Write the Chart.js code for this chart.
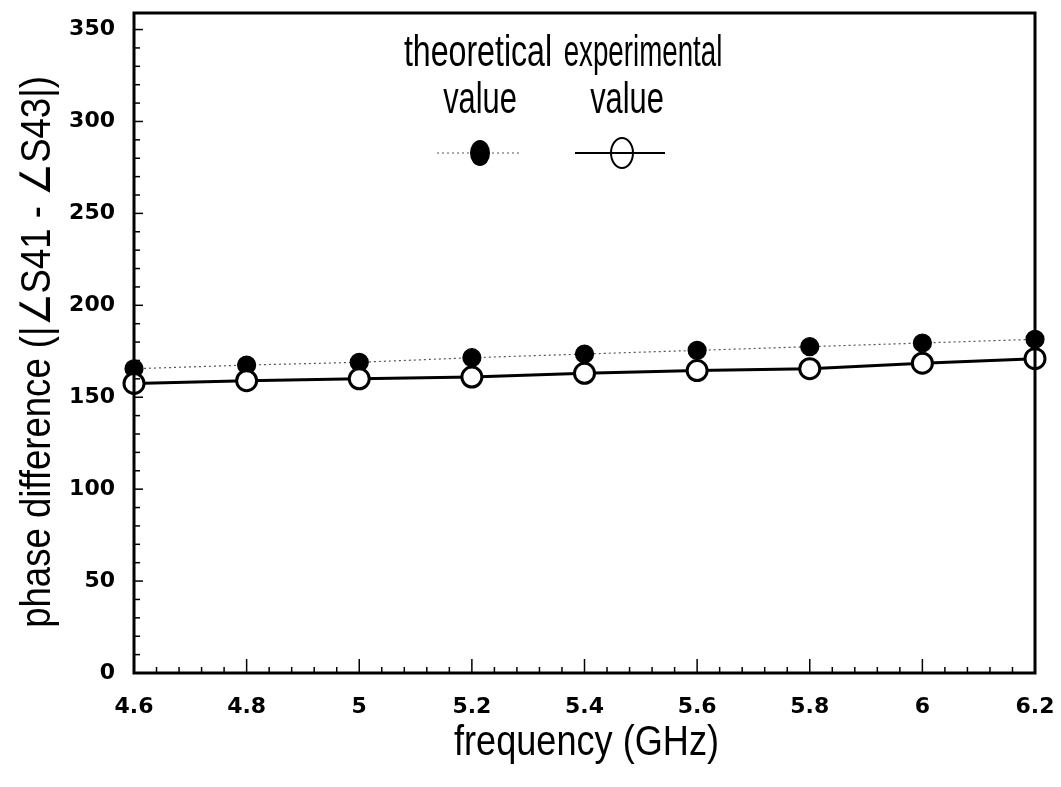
<!DOCTYPE html>
<html>
<head>
<meta charset="utf-8">
<script src="https://cdn.jsdelivr.net/npm/chart.js@4.4.1/dist/chart.umd.min.js"></script>
<style>
  html, body { margin: 0; padding: 0; background: #fff; }
  #wrap { width: 1061px; height: 787px; }
</style>
</head>
<body>
<div id="wrap"><canvas id="phase" width="1061" height="787"></canvas></div>
<script>
// data
var freqs = [4.6, 4.8, 5.0, 5.2, 5.4, 5.6, 5.8, 6.0, 6.2];
var theoretical = [165.5, 167.5, 169, 171.5, 173.5, 175.5, 177.5, 179.5, 181.5];
var experimental = [157.5, 159, 160, 161, 163, 164.5, 165.5, 168.5, 171];
var xTicks = [4.6, 4.8, 5, 5.2, 5.4, 5.6, 5.8, 6, 6.2];
var yTicks = [0, 50, 100, 150, 200, 250, 300, 350];
var xTitle = "frequency (GHz)";
var yTitle = "phase difference (|∠S41 - ∠S43|)";

var sans = "'Liberation Sans', Arial, sans-serif";

function pts(ys) {
  return freqs.map(function (f, i) { return { x: f, y: ys[i] }; });
}

// condensed text: no narrow font installed, so squeeze horizontally
function narrowText(c, txt, x, y, size, squeeze, angle) {
  c.save();
  c.translate(x, y);
  if (angle) c.rotate(angle);
  c.scale(squeeze, 1);
  c.font = size + "px " + sans;
  c.textAlign = "center";
  c.textBaseline = "alphabetic";
  c.fillStyle = "#000";
  c.fillText(txt, 0, 0);
  c.restore();
}

// frame, inward ticks, axis titles and the two-line legend
var frame = {
  id: "frame",
  afterDraw: function (chart) {
    var c = chart.ctx, a = chart.chartArea;
    var xs = chart.scales.x, ys = chart.scales.y;
    c.save();
    c.strokeStyle = "#000";
    c.lineWidth = 1.5;
    for (var v = 4.6; v <= 6.2001; v += 0.04) {
      var px = xs.getPixelForValue(v);
      var k = (v - 4.6) / 0.2;
      var major = Math.abs(k - Math.round(k)) < 0.01;
      c.beginPath();
      c.moveTo(px, a.bottom);
      c.lineTo(px, a.bottom - (major ? 14 : 6));
      c.stroke();
    }
    for (var w = 0; w <= 350; w += 10) {
      var py = ys.getPixelForValue(w);
      c.beginPath();
      c.moveTo(a.left, py);
      c.lineTo(a.left + (w % 50 === 0 ? 9 : 6), py);
      c.stroke();
    }
    c.lineWidth = 3;
    c.strokeRect(a.left, a.top, a.right - a.left, a.bottom - a.top);
    c.restore();

    // axis titles
    narrowText(c, xTitle, (a.left + a.right) / 2 + 2, 755, 42, 0.86, 0);
    narrowText(c, yTitle, 50, 352, 42, 0.87, -Math.PI / 2);

    // legend
    narrowText(c, "theoretical", 478, 66, 44, 0.73, 0);
    narrowText(c, "value", 480, 113, 44, 0.7, 0);
    narrowText(c, "experimental", 643, 66, 44, 0.63, 0);
    narrowText(c, "value", 627, 113, 44, 0.7, 0);

    var ly = 153;
    c.save();
    c.setLineDash([2, 3]);
    c.lineWidth = 1.2;
    c.strokeStyle = "#555";
    c.beginPath(); c.moveTo(437, ly); c.lineTo(522, ly); c.stroke();
    c.setLineDash([]);
    c.fillStyle = "#000";
    c.beginPath(); c.ellipse(480, ly, 10, 13, 0, 0, Math.PI * 2); c.fill();
    c.strokeStyle = "#000";
    c.lineWidth = 2;
    c.beginPath(); c.moveTo(575, ly); c.lineTo(665, ly); c.stroke();
    c.beginPath(); c.ellipse(622, ly, 11, 15, 0, 0, Math.PI * 2); c.stroke();
    c.restore();
  }
};

var ctx = document.getElementById("phase").getContext("2d");
var chart = new Chart(ctx, {
  type: "scatter",
  data: {
    datasets: [
      {
        label: "experimental value",
        data: pts(experimental),
        showLine: true,
        borderColor: "#000",
        borderWidth: 3,
        pointStyle: "circle",
        pointRadius: 10,
        pointBorderWidth: 3,
        pointBackgroundColor: "#fff",
        pointBorderColor: "#000",
        clip: false,
        order: 1
      },
      {
        label: "theoretical value",
        data: pts(theoretical),
        showLine: true,
        borderColor: "#555",
        borderWidth: 1.2,
        borderDash: [2, 3],
        pointStyle: "circle",
        pointRadius: 9,
        pointBackgroundColor: "#000",
        pointBorderColor: "#000",
        clip: false,
        order: 2
      }
    ]
  },
  options: {
    responsive: false,
    animation: false,
    layout: { padding: { top: 12, right: 26, left: 0, bottom: 0 } },
    plugins: { legend: { display: false }, tooltip: { enabled: false } },
    scales: {
      x: {
        type: "linear",
        min: 4.6,
        max: 6.2,
        afterBuildTicks: function (s) { s.ticks = xTicks.map(function (v) { return { value: v }; }); },
        afterFit: function (s) {
          s.height = 114;
          s.paddingLeft = 0;
          s.paddingRight = 0;
        },
        grid: { display: false, drawTicks: false },
        border: { display: false },
        ticks: {
          padding: 21,
          color: "#000",
          font: { family: "'DejaVu Sans', sans-serif", size: 22, weight: "bold" },
          callback: function (v) { return String(Math.round(v * 10) / 10); }
        }
      },
      y: {
        type: "linear",
        min: 0,
        max: 359,
        afterBuildTicks: function (s) { s.ticks = yTicks.map(function (v) { return { value: v }; }); },
        afterFit: function (s) {
          s.width = 134;
          s.paddingTop = 0;
          s.paddingBottom = 0;
        },
        grid: { display: false, drawTicks: false },
        border: { display: false },
        ticks: {
          padding: 19,
          color: "#000",
          font: { family: "'DejaVu Sans', sans-serif", size: 22, weight: "bold" }
        }
      }
    }
  },
  plugins: [frame]
});
</script>
</body>
</html>
